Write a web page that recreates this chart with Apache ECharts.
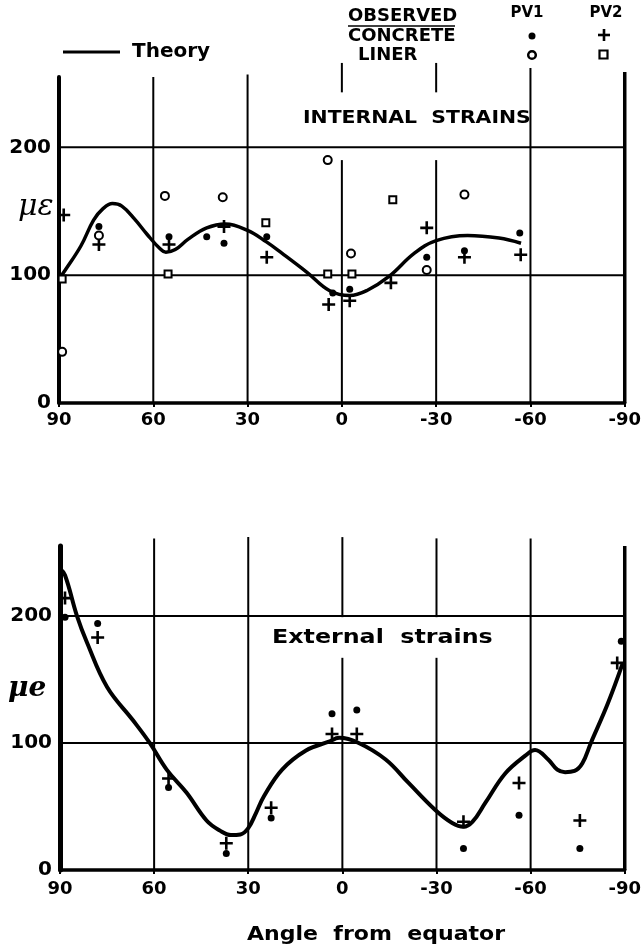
<!DOCTYPE html>
<html>
<head>
<meta charset="utf-8">
<script src="https://cdn.jsdelivr.net/npm/echarts@6/dist/echarts.min.js"></script>
<style>
html,body{margin:0;padding:0;background:#fff;}
#c{width:644px;height:952px;}
</style>
</head>
<body>
<div id="c"></div>
<script>
// ---------- DATA ----------
const xTicks = [90, 60, 30, 0, -30, -60, -90];
const yTicks = [0, 100, 200];

// Internal strains (top panel)
const theoryInternal = [[90,97],[88,104],[83,123],[79,143],[76,152],[73,156],[70,154],[66,144],[62,132],[58,121],[56,118],[53,120],[49,128],[43,137],[37,140],[30,135],[24,126],[19,117],[11,102],[4,88],[-2.5,84],[-8,88],[-15,99],[-23,117],[-30,127],[-40,131],[-50,129],[-57,125]];
const concretePV1Internal = [[77.3,138],[55,130],[43,130],[37.5,125],[23.9,130],[2.9,86],[-2.5,89],[-27,114],[-39,119],[-56.6,133]];
const concretePV2Internal = [[88.5,147],[77.3,124],[55,124],[37.5,138],[23.9,114],[4.2,77],[-2.5,80],[-15.6,94],[-27,137],[-39,114],[-56.9,116]];
const linerPV1Internal = [[89,40],[77.3,131],[56.3,162],[37.9,161],[4.5,190],[-2.9,117],[-27,104],[-39,163]];
const linerPV2Internal = [[89,97],[55.3,101],[24.2,141],[4.5,101],[-3.2,101],[-16.2,159]];

// External strains (bottom panel)
const theoryExternal = [[90,237],[88.4,232],[84.6,200],[81.4,179],[75,144],[66.8,118],[61.4,100],[56,79],[49.7,61],[43.3,39],[39,31],[35.5,27.5],[32.5,28],[30,33],[27.5,45],[25,58],[19.2,79],[11.6,94],[4.3,101],[1,104],[-5.2,100],[-13.8,87],[-21.1,68.5],[-29.7,47],[-35,37],[-38.6,34],[-41.5,38],[-45.6,53],[-51.9,76],[-58.3,90],[-61.4,94.5],[-65.6,87],[-68.5,79],[-71,77],[-74,78],[-76.5,84],[-79.2,100],[-84.6,131],[-89.4,163]];
const concretePV1External = [[88.4,199],[78,194],[55.4,65],[37,13],[22.7,41],[3.3,123],[-4.6,126],[-38.6,17],[-56.3,43],[-75.7,17],[-88.9,180]];
const concretePV2External = [[88.4,214],[78,183],[55.4,72],[37,21],[22.7,49],[3.3,107],[-4.6,107],[-38.6,38],[-56.3,68.5],[-75.7,39],[-87.6,163]];

// Grid line segments: [x0, y0, x1, y1, width] in data units
const gridTop = [
  [90,100,-90,100,2],[90,200,-90,200,2],
  [60,0,60,255,2],[30,0,30,257,2],
  [0,0,0,190,2],[0,243,0,266,2],
  [-30,0,-30,190,2],[-30,243,-30,266,2],
  [-60,0,-60,262,2],[-90,0,-90,259,3.5]
];
const gridBottom = [
  [90,100,-90,100,2],[90,200,-90,200,2],
  [60,0,60,261,2],[30,0,30,262,2],
  [0,0,0,167,2],[0,199,0,262,2],
  [-30,0,-30,167,2],[-30,199,-30,261,2],
  [-60,0,-60,261,2],[-90,0,-90,255,3.5]
];

// ---------- CHART ----------
const FONT = '"DejaVu Sans", sans-serif';
const PLUS = 'path://M4,0H6V4H10V6H6V10H4V6H0V4H4Z';
const chart = echarts.init(document.getElementById('c'), null, {renderer:'canvas'});

function segRender(params, api){
  const a = api.coord([api.value(0), api.value(1)]);
  const b = api.coord([api.value(2), api.value(3)]);
  return {type:'line', shape:{x1:a[0],y1:a[1],x2:b[0],y2:b[1]}, style:{stroke:'#000', lineWidth:api.value(4)}};
}

function xAxis(idx, margin){
  return {
    gridIndex: idx, type:'value', inverse:true, min:-90, max:90, interval:30,
    splitLine:{show:false},
    axisLine:{show:true, onZero:false, lineStyle:{color:'#000', width:3.5}},
    axisTick:{show:true, length:4, lineStyle:{color:'#000', width:2}},
    axisLabel:{color:'#000', fontFamily:FONT, fontWeight:'bold', fontSize:18, margin:margin,
      formatter: v => xTicks.indexOf(v) >= 0 ? String(v) : ''}
  };
}
function yAxis(idx, lw){
  return {
    gridIndex: idx, type:'value', min:0, max:255, interval:100, position:'left',
    splitLine:{show:false},
    axisLine:{show:true, onZero:false, lineStyle:{color:'#000', width:lw}},
    axisTick:{show:false},
    axisLabel:{color:'#000', fontFamily:FONT, fontWeight:'bold', fontSize:20, margin:8,
      showMaxLabel:false,
      formatter: v => yTicks.indexOf(v) >= 0 ? String(v) : ''}
  };
}

function gridSeries(idx, data){
  return {type:'custom', xAxisIndex:idx, yAxisIndex:idx, renderItem:segRender, data:data,
    encode:{x:[0,2], y:[1,3]}, clip:false, silent:true, z:1};
}
function theory(idx, data, w){
  return {type:'line', xAxisIndex:idx, yAxisIndex:idx, data:data, smooth:0.4, showSymbol:false,
    lineStyle:{color:'#000', width:w}, z:3, silent:true};
}
function dots(idx, data){
  return {type:'scatter', xAxisIndex:idx, yAxisIndex:idx, data:data, symbol:'circle', symbolSize:7,
    itemStyle:{color:'#000', opacity:1}, z:4, silent:true};
}
function plus(idx, data){
  return {type:'scatter', xAxisIndex:idx, yAxisIndex:idx, data:data, symbol:PLUS, symbolSize:13,
    itemStyle:{color:'#000', opacity:1}, z:4, silent:true};
}
function rings(idx, data){
  return {type:'scatter', xAxisIndex:idx, yAxisIndex:idx, data:data, symbol:'emptyCircle', symbolSize:8,
    itemStyle:{color:'#000', borderColor:'#000', borderWidth:2.5, opacity:1}, z:4, silent:true};
}
function squares(idx, data){
  return {type:'scatter', xAxisIndex:idx, yAxisIndex:idx, data:data, symbol:'emptyRect', symbolSize:7,
    itemStyle:{color:'#000', borderColor:'#000', borderWidth:2.5, opacity:1}, z:4, silent:true};
}

function txt(x, y, s, size, align, scaleX, fontSpec){
  const el = {type:'text', x:x, y:y, silent:true,
    style:{text:s, fill:'#000', font: fontSpec || ('bold '+size+'px '+FONT), textAlign:align||'left', textVerticalAlign:'middle'}};
  if (scaleX) { el.scaleX = scaleX; }
  return el;
}

const graphics = [
  // legend
  {type:'line', shape:{x1:63,y1:52,x2:120,y2:52}, style:{stroke:'#000', lineWidth:3}},
  txt(132, 52, 'Theory', 20),
  txt(348, 16, 'OBSERVED', 18),
  {type:'line', shape:{x1:348,y1:26,x2:455,y2:26}, style:{stroke:'#000', lineWidth:1.5}},
  txt(348, 36, 'CONCRETE', 18),
  txt(358, 55, 'LINER', 18),
  txt(527, 13, 'PV1', 15, 'center'),
  txt(606, 13, 'PV2', 15, 'center'),
  {type:'circle', shape:{cx:532, cy:36, r:3.5}, style:{fill:'#000'}},
  {type:'rect', shape:{x:598, y:33.7, width:12, height:2.6}, style:{fill:'#000'}},
  {type:'rect', shape:{x:602.7, y:29, width:2.6, height:12}, style:{fill:'#000'}},
  {type:'circle', shape:{cx:532, cy:55, r:3.8}, style:{fill:'#fff', stroke:'#000', lineWidth:2.5}},
  {type:'rect', shape:{x:599.5, y:50.5, width:8, height:8}, style:{fill:'#fff', stroke:'#000', lineWidth:2.2}},
  // panel titles
  txt(303, 119, 'INTERNAL  STRAINS', 17, 'left', 1.2),
  txt(272, 638, 'External  strains', 19, 'left', 1.25),
  txt(247, 935, 'Angle  from  equator', 19, 'left', 1.16),
  // axis quantity labels
  txt(18, 207, 'με', 30, 'left', null, 'italic 30px "DejaVu Serif", serif'),
  txt(8, 689, 'μe', 28, 'left', null, 'italic bold 28px "DejaVu Serif", serif')
];

chart.setOption({
  animation:false,
  backgroundColor:'#fff',
  grid:[
    {left:59, top:77, width:566, height:326},
    {left:60, top:546, width:567, height:324}
  ],
  xAxis:[xAxis(0, 8), xAxis(1, 10)],
  yAxis:[yAxis(0, 4), yAxis(1, 5)],
  graphic: graphics,
  series:[
    gridSeries(0, gridTop),
    gridSeries(1, gridBottom),
    theory(0, theoryInternal, 3.5),
    dots(0, concretePV1Internal),
    plus(0, concretePV2Internal),
    rings(0, linerPV1Internal),
    squares(0, linerPV2Internal),
    theory(1, theoryExternal, 4),
    dots(1, concretePV1External),
    plus(1, concretePV2External)
  ]
});
</script>
</body>
</html>
